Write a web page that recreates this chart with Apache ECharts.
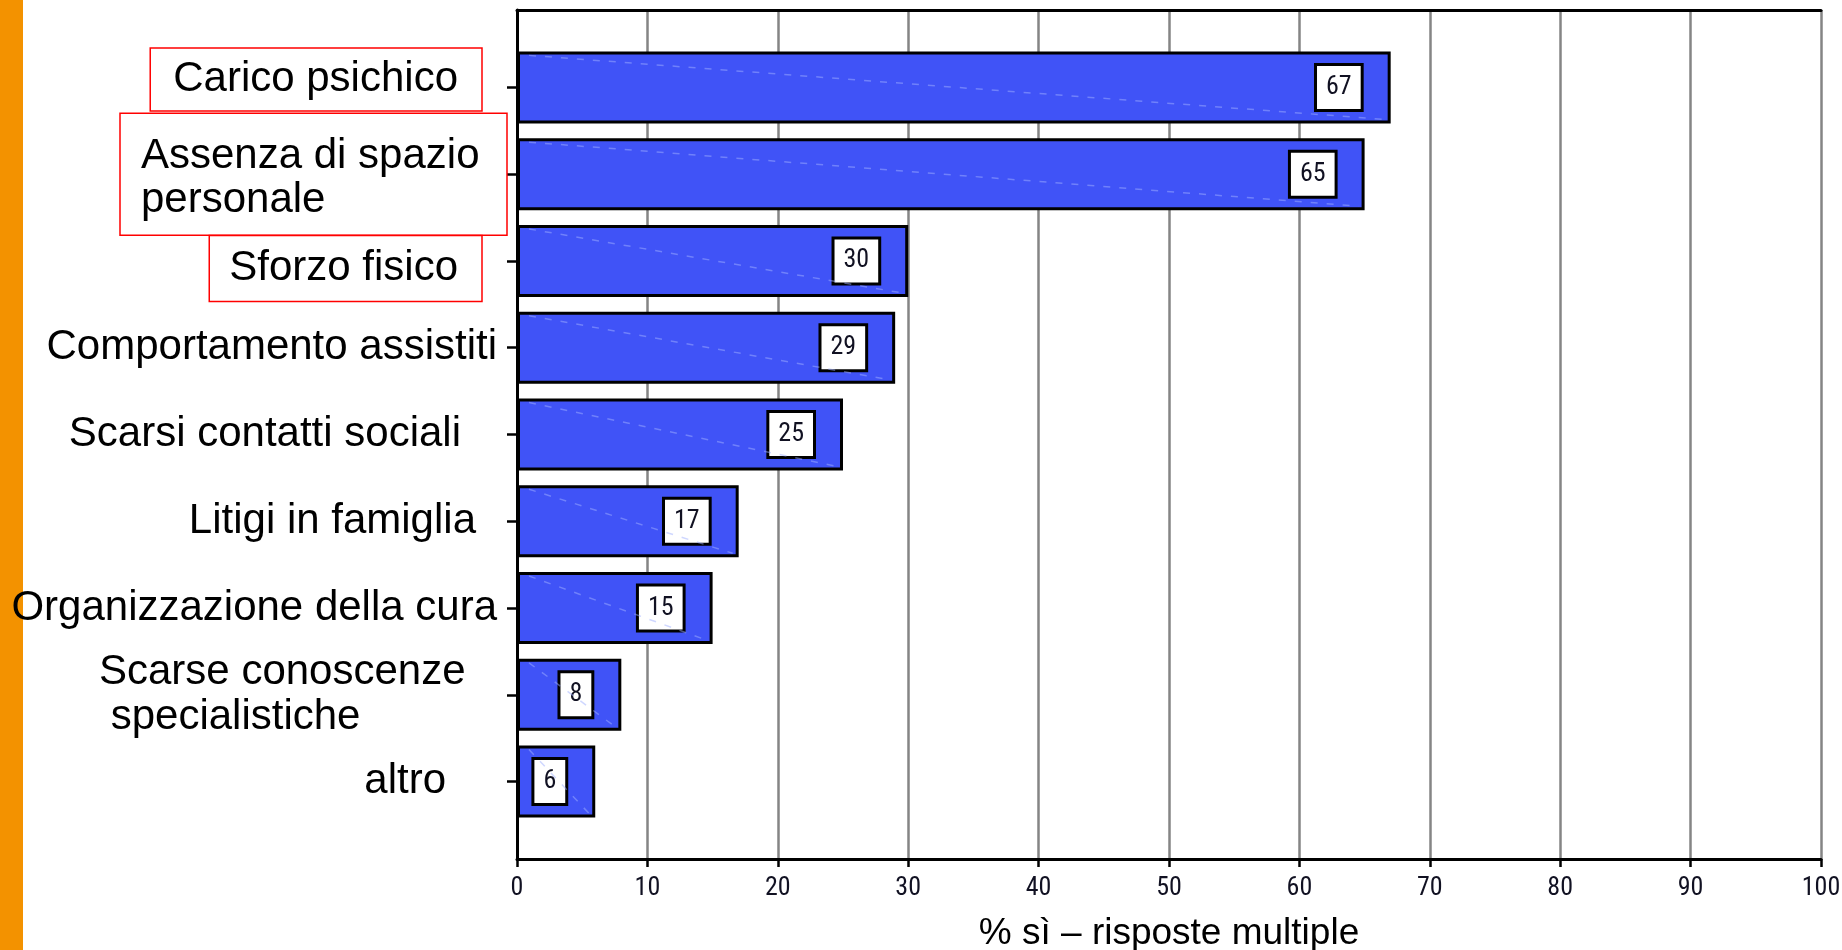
<!DOCTYPE html>
<html>
<head>
<meta charset="utf-8">
<title>Carico per i familiari curanti</title>
<script src="https://cdn.jsdelivr.net/npm/echarts@6/dist/echarts.min.js"></script>
<style>
  html, body { margin: 0; padding: 0; background: #fff; }
  #chart { width: 1842px; height: 950px; }
</style>
</head>
<body>
<div id="chart"></div>
<script>
// Categories (top to bottom) and their percentages
const categories = [
  'Carico psichico',
  'Assenza di spazio\npersonale',
  'Sforzo fisico',
  'Comportamento assistiti',
  'Scarsi contatti sociali',
  'Litigi in famiglia',
  'Organizzazione della cura',
  'Scarse conoscenze\n specialistiche',
  'altro'
];
const values = [67, 65, 30, 29, 25, 17, 15, 8, 6];

// Value axis scale
const xMin = 0;
const xMax = 100;
const xStep = 10;
const xTitle = '% sì – risposte multiple';

// Styling
const SANS = '"Liberation Sans", Arial, sans-serif';
const NARROW = '"Roboto Condensed", "DejaVu Sans Condensed", sans-serif';
const BAR_BLUE = '#4053F7';
const LABEL_SIZE = 42;

// Space kept between each category label and the axis ticks
const labelGap = [25, 0, 25, 10, 46, 31, 10, 38, 61];

const rich = {
  t: { fontSize: LABEL_SIZE, fontFamily: SANS, color: '#000' },
  box0: {
    fontSize: LABEL_SIZE, fontFamily: SANS, color: '#000', lineHeight: 46,
    borderColor: '#ff0000', borderWidth: 1.5, padding: [11, 24, 10, 23]
  },
  box2: {
    fontSize: LABEL_SIZE, fontFamily: SANS, color: '#000', lineHeight: 46,
    borderColor: '#ff0000', borderWidth: 1.5, padding: [12, 24, 12, 20]
  },
  wide: {
    fontSize: LABEL_SIZE, fontFamily: SANS, color: '#000',
    width: 340, align: 'left', lineHeight: 44
  },
  left7: {
    fontSize: LABEL_SIZE, fontFamily: SANS, color: '#000',
    width: 370, align: 'left', lineHeight: 45
  },
  up: { fontSize: 10, height: 16, lineHeight: 16 },
  down: { fontSize: 10, height: 15, lineHeight: 15 }
};
labelGap.forEach(function (g, i) {
  rich['g' + i] = { fontSize: 10, width: g };
});

function categoryLabel(value, index) {
  const lines = value.split('\n');
  const gap = '{g' + index + '| }';
  switch (index) {
    case 0:
      return '{box0|' + value + '}' + gap + '\n{up| }';
    case 1:
      return lines.map(function (l) { return '{wide|' + l + '}'; }).join('\n');
    case 2:
      return '{down| }\n{box2|' + value + '}' + gap;
    case 7:
      return lines.map(function (l) { return '{left7|' + l + '}' + gap; }).join('\n');
    default:
      return '{t|' + value + '}' + gap;
  }
}

const yData = categories.map(function (c, i) {
  if (i === 1) {
    return {
      value: c,
      textStyle: {
        borderColor: '#ff0000', borderWidth: 1.5, padding: [21, 26, 13, 21]
      }
    };
  }
  return c;
});

const chart = echarts.init(document.getElementById('chart'), null, { renderer: 'canvas' });

const option = {
  backgroundColor: '#ffffff',
  animation: false,
  graphic: [{
    type: 'rect',
    left: 0,
    top: 0,
    z: -10,
    shape: { width: 23, height: 950 },
    style: { fill: '#F39200' }
  }],
  grid: [
    // bars
    { left: 517, right: 21, top: 44, bottom: 125, outerBoundsMode: 'none', containLabel: false },
    // frame, grid lines and value axis
    { left: 517, right: 21, top: 10, bottom: 91, outerBoundsMode: 'none', containLabel: false }
  ],
  xAxis: [
    {
      gridIndex: 0, type: 'value', min: xMin, max: xMax, interval: xStep, show: false
    },
    {
      gridIndex: 1, type: 'value', min: xMin, max: xMax, interval: xStep,
      position: 'bottom',
      name: xTitle,
      nameLocation: 'middle',
      nameGap: 56,
      nameTextStyle: { fontSize: 37, fontFamily: SANS, color: '#000' },
      axisLine: { show: true, onZero: false, lineStyle: { color: '#000', width: 3 } },
      axisTick: { show: true, inside: false, length: 8, lineStyle: { color: '#000', width: 2.5 } },
      axisLabel: { show: true, margin: 16, fontSize: 26, fontFamily: NARROW, color: '#111122' },
      splitLine: { show: true, lineStyle: { color: '#858585', width: 2.5 } }
    },
    {
      gridIndex: 1, type: 'value', min: xMin, max: xMax, interval: xStep,
      position: 'top',
      axisLine: { show: true, onZero: false, lineStyle: { color: '#000', width: 3 } },
      axisTick: { show: false },
      axisLabel: { show: false },
      splitLine: { show: false }
    }
  ],
  yAxis: [
    {
      gridIndex: 0,
      type: 'category',
      inverse: true,
      data: yData,
      axisLine: { show: false },
      axisTick: {
        show: true, alignWithLabel: true, interval: 0, length: 10,
        lineStyle: { color: '#000', width: 2.5 }
      },
      axisLabel: {
        show: true,
        interval: 0,
        margin: 10,
        fontSize: LABEL_SIZE,
        fontFamily: SANS,
        color: '#000',
        formatter: categoryLabel,
        rich: rich
      },
      splitLine: { show: false }
    },
    {
      gridIndex: 1,
      type: 'value',
      min: 0,
      max: 1,
      axisLine: { show: true, onZero: false, lineStyle: { color: '#000', width: 3 } },
      axisTick: { show: false },
      axisLabel: { show: false },
      splitLine: { show: false }
    }
  ],
  series: [
    {
      type: 'bar',
      xAxisIndex: 0,
      yAxisIndex: 0,
      data: values,
      barCategoryGap: '17%',
      z: 2,
      itemStyle: { color: BAR_BLUE, borderColor: '#000', borderWidth: 3 },
      label: {
        show: true,
        position: 'insideRight',
        distance: 30,
        formatter: '{c}',
        fontSize: 26,
        lineHeight: 26,
        fontFamily: NARROW,
        color: '#111122',
        backgroundColor: '#fff',
        borderColor: '#000',
        borderWidth: 3,
        padding: [9, 9, 8, 9]
      }
    },
    {
      // faint dashed diagonal across each bar
      type: 'custom',
      xAxisIndex: 0,
      yAxisIndex: 0,
      z: 3,
      silent: true,
      data: values.map(function (v, i) { return [v, i]; }),
      encode: { x: 0, y: 1 },
      renderItem: function (params, api) {
        const idx = api.value(1);
        const start = api.coord([0, idx]);
        const end = api.coord([api.value(0), idx]);
        const h = api.size([0, 1])[1] * 0.83;
        return {
          type: 'line',
          shape: {
            x1: start[0] + 12, y1: start[1] - h / 2 + 4,
            x2: end[0] - 6, y2: end[1] + h / 2 - 4
          },
          style: {
            stroke: 'rgba(160,175,255,0.5)',
            lineWidth: 1.5,
            lineDash: [7, 9]
          }
        };
      }
    }
  ]
};

chart.setOption(option);
</script>
</body>
</html>
